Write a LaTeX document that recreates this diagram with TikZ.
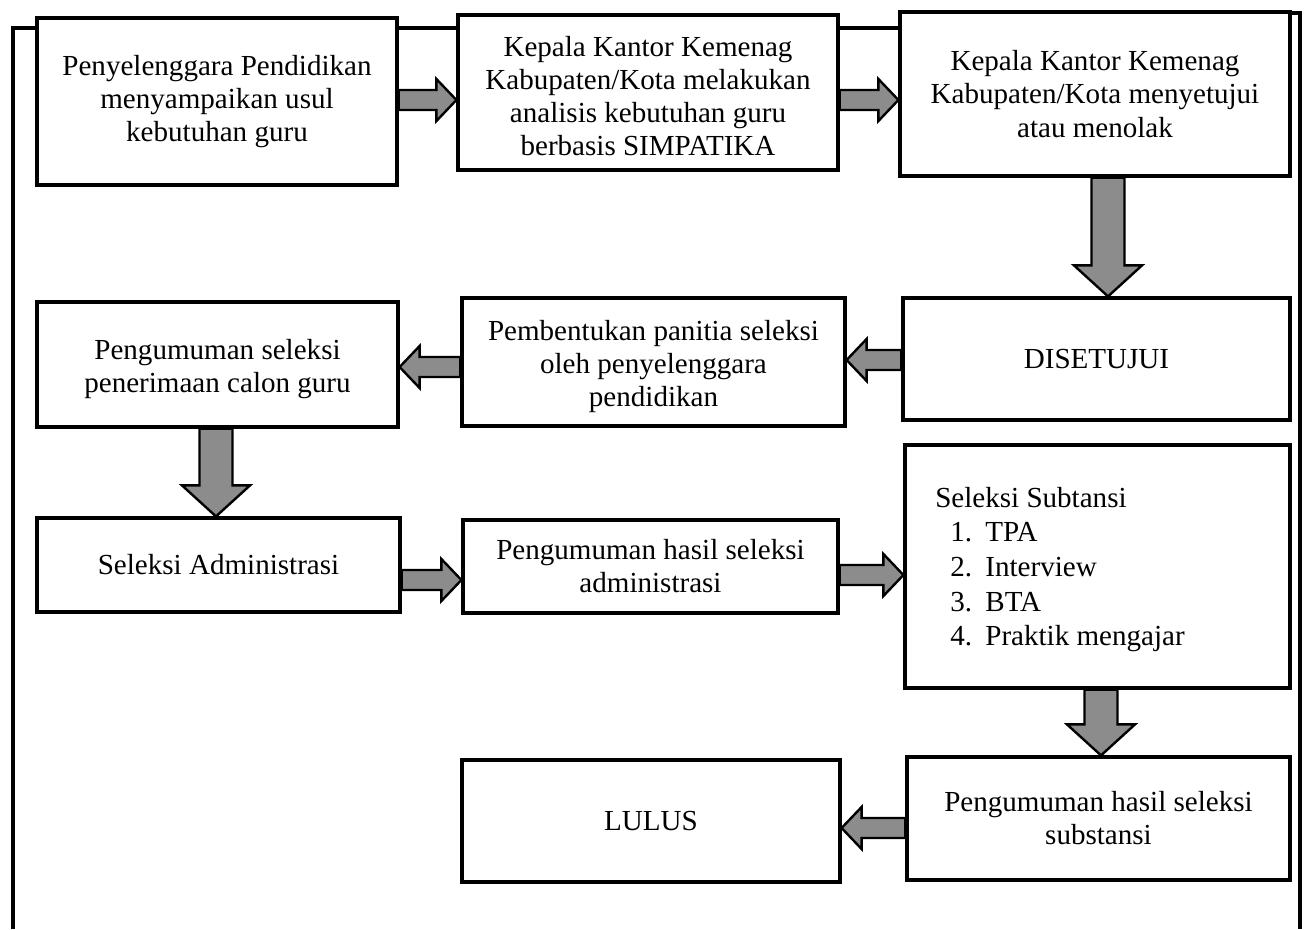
\documentclass[tikz,border=0pt]{standalone}
\usepackage{fontspec}
\setmainfont{Liberation Serif}
\usetikzlibrary{calc}
\tikzset{
  box/.style={draw=black, line width=2.4pt, fill=white, align=center, inner sep=0pt},
  blk/.style={draw=black, line width=1.8pt, fill=black!45, line join=miter},
  frameline/.style={draw=black, line width=2.6pt},
}
% rightwards block arrow: tail node, head node, y
\newcommand\harr[3]{%
  \draw[blk] let \p1=(#1.east), \p2=(#2.west), \p3=(0,#3) in
    (\x1,\y3+7.5pt) -- (\x2-15pt,\y3+7.5pt) -- (\x2-15pt,\y3+15.75pt) -- (\x2,\y3)
    -- (\x2-15pt,\y3-15.75pt) -- (\x2-15pt,\y3-7.5pt) -- (\x1,\y3-7.5pt) -- cycle;}
% leftwards block arrow
\newcommand\larr[3]{%
  \draw[blk] let \p1=(#1.west), \p2=(#2.east), \p3=(0,#3) in
    (\x1,\y3+7.5pt) -- (\x2+15pt,\y3+7.5pt) -- (\x2+15pt,\y3+15.75pt) -- (\x2,\y3)
    -- (\x2+15pt,\y3-15.75pt) -- (\x2+15pt,\y3-7.5pt) -- (\x1,\y3-7.5pt) -- cycle;}
% downwards block arrow
\newcommand\darr[3]{%
  \draw[blk] let \p1=(#1.south), \p2=(#2.north), \p3=(#3,0) in
    (\x3-12.4pt,\y1) -- (\x3-12.4pt,\y2+23.25pt) -- (\x3-25.5pt,\y2+23.25pt) -- (\x3,\y2)
    -- (\x3+25.5pt,\y2+23.25pt) -- (\x3+12.4pt,\y2+23.25pt) -- (\x3+12.4pt,\y1) -- cycle;}
\begin{document}
\begin{tikzpicture}[x=0.75pt, y=-0.75pt,
  every node/.style={font=\fontsize{21.8}{24.8}\selectfont}]
\useasboundingbox (0,0) rectangle (1304,929);
% outer frame
\draw[frameline] (13,929) -- (13,28) -- (900,28);
\draw[frameline] (1285,13) -- (1300,13) -- (1300,929);
% boxes
\node[box, minimum width=270pt, minimum height=125.25pt] (A) at (217,101.5)
  {Penyelenggara Pendidikan\\menyampaikan usul\\kebutuhan guru};
\node[box, minimum width=285pt, minimum height=116.25pt] (B) at (648,92.5)
  {\rule{0pt}{21pt}Kepala Kantor Kemenag\\Kabupaten/Kota melakukan\\analisis kebutuhan guru\\berbasis SIMPATIKA};
\node[box, minimum width=292.5pt, minimum height=123pt] (C) at (1095,94)
  {Kepala Kantor Kemenag\\Kabupaten/Kota menyetujui\\atau menolak};
\node[box, minimum width=290.25pt, minimum height=91.5pt] (D) at (1096.5,359)
  {DISETUJUI};
\node[box, minimum width=287.25pt, minimum height=96pt] (E) at (653.5,362)
  {\rule{0pt}{22.5pt}Pembentukan panitia seleksi\\oleh penyelenggara\\pendidikan};
\node[box, minimum width=270.75pt, minimum height=93.75pt] (F) at (217.5,364.5)
  {\rule{0pt}{22.5pt}Pengumuman seleksi\\penerimaan calon guru};
\node[box, minimum width=272.25pt, minimum height=70.5pt] (G) at (218.5,565)
  {Seleksi Administrasi};
\node[box, minimum width=281.25pt, minimum height=69.75pt] (H) at (650.5,566.5)
  {Pengumuman hasil seleksi\\administrasi};
\node[box, minimum width=288.75pt, minimum height=182.25pt] (I) at (1097.5,566.5) {};
\node[anchor=base west, inner sep=0pt] (Itext) at (935,507) {%
  \renewcommand\arraystretch{1.05}%
  \begin{tabular}[t]{@{\hspace{11.25pt}}r@{\hspace{10pt}}l@{}}
  \multicolumn{2}{@{}l@{}}{Seleksi Subtansi}\\
  1. & TPA\\
  2. & Interview\\
  3. & BTA\\
  4. & Praktik mengajar
  \end{tabular}};
\node[box, minimum width=287.25pt, minimum height=92.25pt] (J) at (1098.5,818.5)
  {Pengumuman hasil seleksi\\substansi};
\node[box, minimum width=283.5pt, minimum height=91.5pt] (K) at (651,821)
  {LULUS};
% block arrows
\harr{A}{B}{100}
\harr{B}{C}{100}
\darr{C}{D}{1108}
\larr{D}{E}{360}
\larr{E}{F}{367}
\darr{F}{G}{216}
\harr{G}{H}{580}
\harr{H}{I}{575}
\darr{I}{J}{1101}
\larr{J}{K}{828}
\end{tikzpicture}
\end{document}
